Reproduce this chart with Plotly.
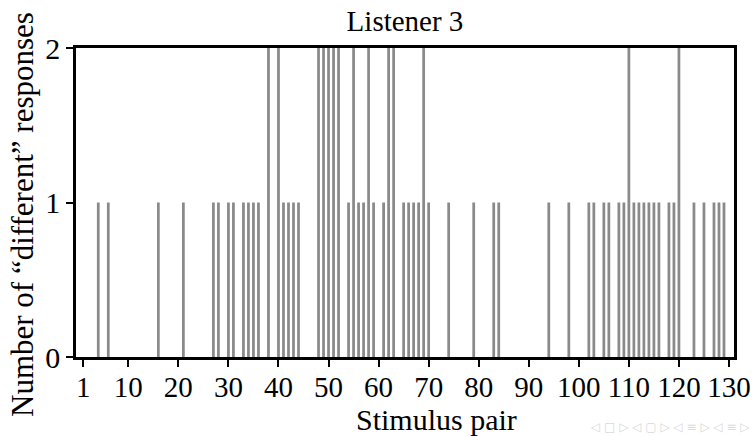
import plotly.graph_objects as go

pairs_one = [4, 6, 16, 21, 27, 28, 30, 31, 33, 34, 35, 36, 41, 42, 43, 44, 54, 56, 57, 59,
             61, 65, 66, 67, 68, 70, 74, 79, 83, 84, 94, 98, 102, 103, 105, 106, 108, 109,
             111, 112, 113, 114, 115, 116, 118, 119, 123, 125, 127, 128, 129]
pairs_two = [38, 40, 48, 49, 50, 51, 52, 55, 58, 62, 63, 69, 110, 120]

stimulus = sorted(pairs_one + pairs_two)
responses = [2 if s in pairs_two else 1 for s in stimulus]

x_ticks = [1, 10, 20, 30, 40, 50, 60, 70, 80, 90, 100, 110, 120, 130]
y_ticks = [0, 1, 2]

font = "Liberation Serif, Times New Roman, serif"

W, H = 754, 436
ML, MR, MT, MB = 76, 20, 48, 79
plot_w = W - ML - MR
plot_h = H - MT - MB


def px_x(px):
    return (px - ML) / plot_w


def px_y(py):
    return (H - MB - py) / plot_h


fig = go.Figure(go.Bar(
    x=stimulus, y=responses, width=0.55,
    marker=dict(color="#8a8a8a", line=dict(width=0)),
))

fig.update_layout(
    width=W, height=H,
    margin=dict(l=ML, r=MR, t=MT, b=MB, autoexpand=False),
    paper_bgcolor="white", plot_bgcolor="white",
    showlegend=False,
    font=dict(family=font, color="black", size=30),
    title=dict(text="Listener 3", x=0.5, xanchor="center", xref="paper",
               y=1 - 21 / H, yanchor="middle", font=dict(size=29, family=font)),
    annotations=[
        dict(text="Stimulus pair", x=px_x(436), xref="paper", xanchor="center",
             y=px_y(419), yref="paper", yanchor="middle", showarrow=False,
             font=dict(size=30, family=font, color="black")),
        dict(text="Number of “different” responses", textangle=-90,
             x=px_x(22), xref="paper", xanchor="center",
             y=px_y(215), yref="paper", yanchor="middle", showarrow=False,
             font=dict(size=31, family=font, color="black")),
        dict(text="◁ □ ▷ ◁ ▢ ▷ ◁ ≡ ▷ ◁ ≡ ▷", x=px_x(752), xref="paper", xanchor="right",
             y=px_y(427), yref="paper", yanchor="middle", showarrow=False,
             font=dict(size=12, color="#d8d8d8", family="DejaVu Sans")),
    ],
)

fig.update_xaxes(
    range=[-0.45, 131], tickmode="array", tickvals=x_ticks,
    ticktext=[str(t) for t in x_ticks],
    ticks="outside", ticklen=7, tickwidth=2, tickcolor="black",
    showline=True, linewidth=2.5, linecolor="black", mirror=True,
    showgrid=False, zeroline=False, automargin=False,
    ticklabelstandoff=-5,
    tickfont=dict(size=29, family=font),
)
fig.update_yaxes(
    range=[0, 2], tickmode="array", tickvals=y_ticks,
    ticks="outside", ticklen=7, tickwidth=2, tickcolor="black",
    showline=True, linewidth=2.5, linecolor="black", mirror=True,
    showgrid=False, zeroline=False, automargin=False,
    tickfont=dict(size=30, family=font),
)

fig.write_html("out.html")
